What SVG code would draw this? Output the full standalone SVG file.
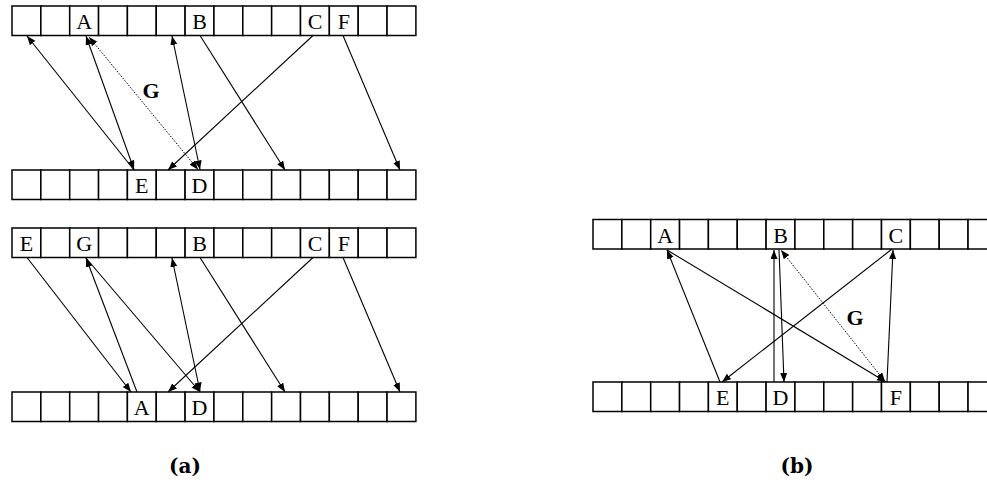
<svg xmlns="http://www.w3.org/2000/svg" width="987" height="486" viewBox="0 0 987 486">
<style>
.cell{fill:#fff;stroke:#000;stroke-width:1.5}
.lbl{font-family:"Liberation Serif","Times New Roman",serif;font-size:22px;text-anchor:middle;fill:#000}
.g{font-family:"Liberation Serif","Times New Roman",serif;font-size:22px;font-weight:bold;text-anchor:middle}
.cap{font-family:"DejaVu Serif","Liberation Serif",serif;font-size:20px;font-weight:bold;text-anchor:middle}
.e{stroke:#000;stroke-width:1.1;fill:none}
.d{stroke:#000;stroke-width:1;stroke-dasharray:1.5 1.5;fill:none}
</style>
<defs>
<marker id="ah" markerUnits="userSpaceOnUse" markerWidth="10" markerHeight="8" refX="9" refY="3.5" orient="auto-start-reverse">
<path d="M0,0 L9,3.5 L0,7 z" fill="#000"/>
</marker>
<g id="strip">
<rect class="cell" x="0" y="0" width="28.85" height="29.5"/>
<rect class="cell" x="28.85" y="0" width="28.85" height="29.5"/>
<rect class="cell" x="57.7" y="0" width="28.85" height="29.5"/>
<rect class="cell" x="86.55" y="0" width="28.85" height="29.5"/>
<rect class="cell" x="115.4" y="0" width="28.85" height="29.5"/>
<rect class="cell" x="144.25" y="0" width="28.85" height="29.5"/>
<rect class="cell" x="173.1" y="0" width="28.85" height="29.5"/>
<rect class="cell" x="201.95" y="0" width="28.85" height="29.5"/>
<rect class="cell" x="230.8" y="0" width="28.85" height="29.5"/>
<rect class="cell" x="259.65" y="0" width="28.85" height="29.5"/>
<rect class="cell" x="288.5" y="0" width="28.85" height="29.5"/>
<rect class="cell" x="317.35" y="0" width="28.85" height="29.5"/>
<rect class="cell" x="346.2" y="0" width="28.85" height="29.5"/>
<rect class="cell" x="375.05" y="0" width="28.85" height="29.5"/>
</g>
</defs>

<g id="strip-a1-top">
<use href="#strip" x="12" y="6"/>
<text class="lbl" x="84.1" y="29">A</text>
<text class="lbl" x="199.5" y="29">B</text>
<text class="lbl" x="315" y="29">C</text>
<text class="lbl" x="343.8" y="29">F</text>
</g>
<g id="strip-a1-bottom">
<use href="#strip" x="12" y="170"/>
<text class="lbl" x="141.8" y="193">E</text>
<text class="lbl" x="199.5" y="193">D</text>
</g>
<g id="strip-a2-top">
<use href="#strip" x="12" y="228"/>
<text class="lbl" x="26.4" y="251">E</text>
<text class="lbl" x="84.1" y="251">G</text>
<text class="lbl" x="199.5" y="251">B</text>
<text class="lbl" x="315" y="251">C</text>
<text class="lbl" x="343.8" y="251">F</text>
</g>
<g id="strip-a2-bottom">
<use href="#strip" x="12" y="392"/>
<text class="lbl" x="141.8" y="415">A</text>
<text class="lbl" x="199.5" y="415">D</text>
</g>
<g id="strip-b-top">
<use href="#strip" x="593" y="219.5"/>
<text class="lbl" x="665.1" y="242.5">A</text>
<text class="lbl" x="780.5" y="242.5">B</text>
<text class="lbl" x="895.9" y="242.5">C</text>
</g>
<g id="strip-b-bottom">
<use href="#strip" x="593" y="382"/>
<text class="lbl" x="722.8" y="405">E</text>
<text class="lbl" x="780.5" y="405">D</text>
<text class="lbl" x="895.9" y="405">F</text>
</g>

<g id="connectors">
<!-- (a) upper -->
<line class="e" x1="134" y1="170" x2="27" y2="36" marker-end="url(#ah)"/>
<line class="e" x1="134" y1="169.5" x2="86" y2="36" marker-start="url(#ah)" marker-end="url(#ah)"/>
<line class="d" x1="198" y1="169.5" x2="89" y2="37" marker-start="url(#ah)" marker-end="url(#ah)"/>
<line class="e" x1="200" y1="169.5" x2="172" y2="36" marker-start="url(#ah)" marker-end="url(#ah)"/>
<line class="e" x1="200" y1="35.5" x2="285" y2="170" marker-end="url(#ah)"/>
<line class="e" x1="313" y1="35.5" x2="168" y2="170" marker-end="url(#ah)"/>
<line class="e" x1="343" y1="35.5" x2="400" y2="170" marker-end="url(#ah)"/>
<!-- (a) lower -->
<line class="e" x1="27" y1="257.5" x2="131" y2="392" marker-end="url(#ah)"/>
<line class="e" x1="137" y1="392" x2="86" y2="258" marker-end="url(#ah)"/>
<line class="e" x1="86" y1="258" x2="200" y2="392" marker-end="url(#ah)"/>
<line class="e" x1="200" y1="391.5" x2="172" y2="258" marker-start="url(#ah)" marker-end="url(#ah)"/>
<line class="e" x1="200" y1="257.5" x2="285" y2="392" marker-end="url(#ah)"/>
<line class="e" x1="313" y1="257.5" x2="168" y2="392" marker-end="url(#ah)"/>
<line class="e" x1="343" y1="257.5" x2="400" y2="392" marker-end="url(#ah)"/>
<!-- (b) -->
<line class="e" x1="720" y1="382" x2="667" y2="250" marker-end="url(#ah)"/>
<line class="e" x1="667" y1="250" x2="886" y2="382" marker-end="url(#ah)"/>
<line class="e" x1="892" y1="249" x2="722" y2="382" marker-end="url(#ah)"/>
<line class="e" x1="887" y1="382" x2="893" y2="250" marker-end="url(#ah)"/>
<line class="e" x1="774" y1="382" x2="774" y2="250" marker-end="url(#ah)"/>
<line class="e" x1="779" y1="249.5" x2="784" y2="382" marker-end="url(#ah)"/>
<line class="d" x1="885" y1="381.5" x2="781" y2="250" marker-start="url(#ah)" marker-end="url(#ah)"/>
</g>

<text class="g" x="151" y="98">G</text>
<text class="g" x="855" y="325">G</text>
<text class="cap" x="185" y="473">(a)</text>
<text class="cap" x="797" y="473">(b)</text>
</svg>
